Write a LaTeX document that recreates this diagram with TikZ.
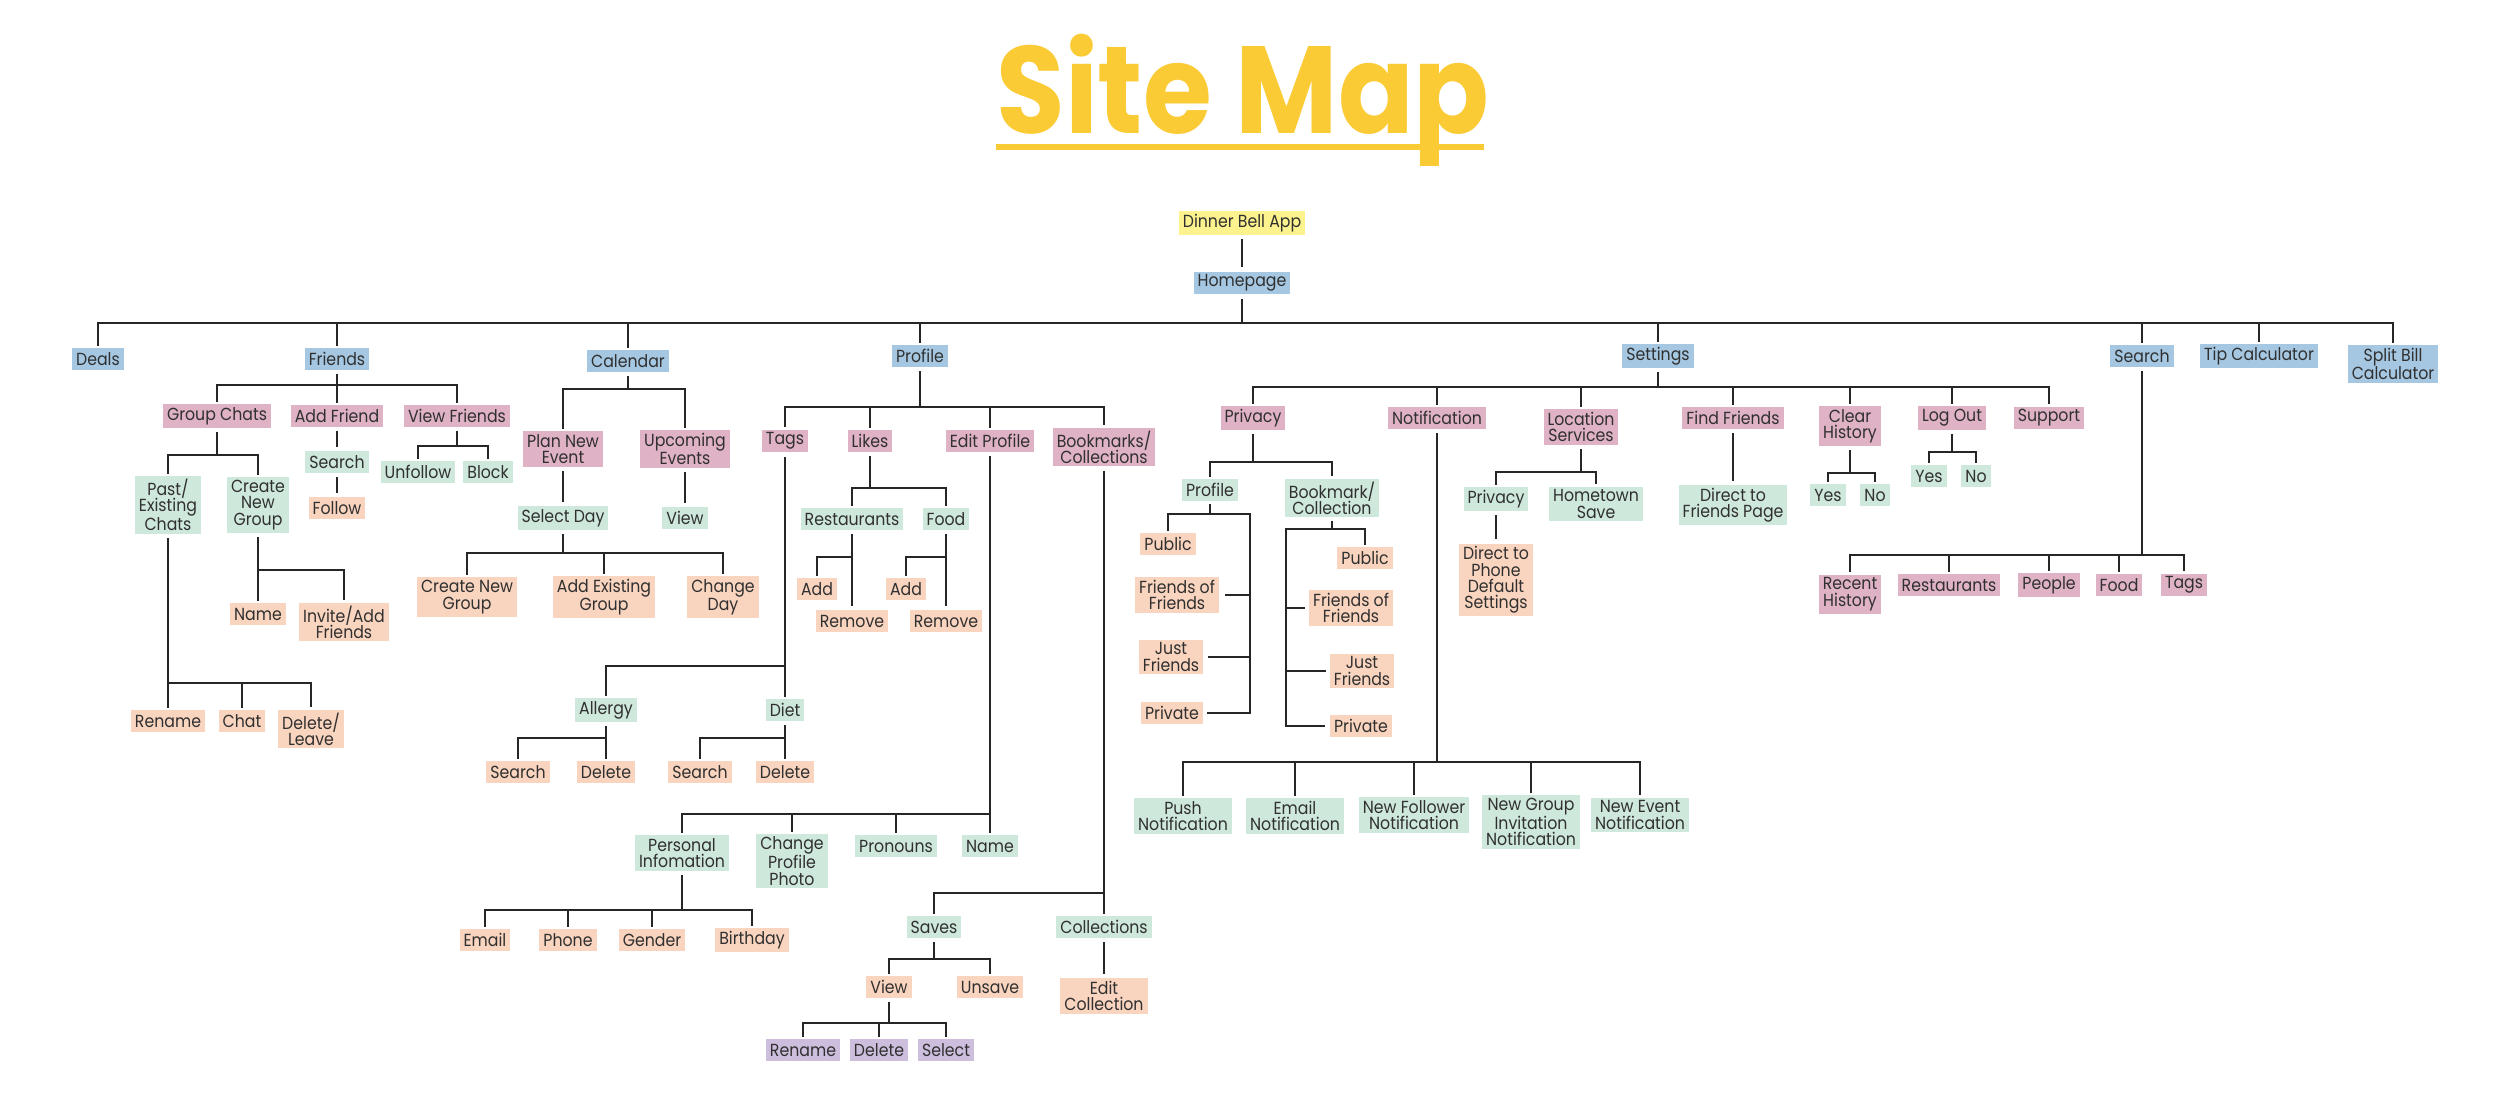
\documentclass[tikz,border=0pt]{standalone}
\usepackage{fontspec}
\newfontfamily\nodefont[FakeStretch=0.9]{Poppins}
\newfontfamily\titlefont[FakeStretch=0.9]{Poppins}
\definecolor{cblue}{HTML}{A5C7E1}
\definecolor{cpink}{HTML}{DFB2C6}
\definecolor{cgreen}{HTML}{CFE8DC}
\definecolor{cpeach}{HTML}{F9D4BF}
\definecolor{cpurple}{HTML}{CEBEDD}
\definecolor{cyellow}{HTML}{FDF38E}
\definecolor{ctitle}{HTML}{FBCB35}
\definecolor{ctext}{HTML}{303030}
\tikzset{
  box/.style={inner xsep=4pt, inner ysep=3pt, minimum height=22pt, align=center,
    font=\nodefont\fontsize{17.5}{16.3}\selectfont, text=ctext},
  bl/.style={box, fill=cblue},
  pk/.style={box, fill=cpink},
  gr/.style={box, fill=cgreen},
  pc/.style={box, fill=cpeach},
  pu/.style={box, fill=cpurple},
  ye/.style={box, fill=cyellow},
  conn/.style={line width=2.2pt, draw=black!85},
  busline/.style={conn, line cap=rect},
}
\newcommand\fan[3]{%
  \draw[conn] ([yshift=-4pt]#1.south) -- (#1.south |- #2);
  \foreach \c in {#3}{\draw[conn] (\c.north |- #2) -- ([yshift=2pt]\c.north);}
}
\newcommand\bus[3]{\draw[busline] (#2.north |- #1) -- (#3.north |- #1);}
\newcommand\vlink[2]{\draw[conn] ([yshift=-4pt]#1.south) -- ([yshift=4pt]#2.north);}
\begin{document}
\begin{tikzpicture}[x=1pt,y=-1pt]
\useasboundingbox (0,0) rectangle (2500,1096);
% title
\node[anchor=base, inner sep=0, text=ctitle,
  font=\titlefont\bfseries\fontsize{124}{124}\selectfont] (title) at (1243,133) {Site Map};
\fill[ctitle] (996,144) rectangle (1484,150);

% level 0/1
\node[ye] (dinner) at (1242,223) {Dinner Bell App};
\node[bl] (home) at (1242,283) {Homepage};
\node[bl] (deals) at (98,359) {Deals};
\node[bl] (friends) at (337,359) {Friends};
\node[bl] (calendar) at (628,361) {Calendar};
\node[bl] (profile) at (920,356) {Profile};
\node[bl] (settings) at (1658,356) {Settings};
\node[bl] (search) at (2142,356) {Search};
\node[bl] (tip) at (2259,356) {Tip Calculator};
\node[bl] (split) at (2393,364) {Split Bill\\Calculator};

% friends subtree
\node[pk] (gchats) at (217,416) {Group Chats};
\node[pk] (addf) at (337,416) {Add Friend};
\node[pk] (viewf) at (457,416) {View Friends};
\node[gr] (past) at (168,505) {Past/\\Existing\\Chats};
\node[gr] (cng) at (258,505) {Create\\New\\Group};
\node[pc] (rename) at (168,721) {Rename};
\node[pc] (chat) at (242,721) {Chat};
\node[pc] (delleave) at (311,729) {Delete/\\Leave};
\node[pc] (gname) at (258,614) {Name};
\node[pc] (invite) at (344,622) {Invite/Add\\Friends};
\node[gr] (fsearch) at (337,462) {Search};
\node[pc] (follow) at (337,508) {Follow};
\node[gr] (unfollow) at (418,472) {Unfollow};
\node[gr] (block) at (488,472) {Block};

% calendar subtree
\node[pk] (plan) at (563,449) {Plan New\\Event};
\node[pk] (upcoming) at (685,449) {Upcoming\\Events};
\node[gr] (selday) at (563,518) {Select Day};
\node[gr] (cview) at (685,518) {View};
\node[pc] (cngroup) at (467,597) {Create New\\Group};
\node[pc] (addex) at (604,597) {Add Existing\\Group};
\node[pc] (chday) at (723,597) {Change\\Day};

% profile subtree
\node[pk] (tags) at (785,441) {Tags};
\node[pk] (likes) at (870,441) {Likes};
\node[pk] (editp) at (990,441) {Edit Profile};
\node[pk] (bookm) at (1104,447) {Bookmarks/\\Collections};
\node[gr] (rest) at (852,519) {Restaurants};
\node[gr] (food) at (946,519) {Food};
\node[pc] (add1) at (817,589) {Add};
\node[pc] (rem1) at (852,621) {Remove};
\node[pc] (add2) at (906,589) {Add};
\node[pc] (rem2) at (946,621) {Remove};
\node[gr] (allergy) at (606,710) {Allergy};
\node[gr] (diet) at (785,710) {Diet};
\node[pc] (asearch) at (518,772) {Search};
\node[pc] (adelete) at (606,772) {Delete};
\node[pc] (dsearch) at (700,772) {Search};
\node[pc] (ddelete) at (785,772) {Delete};
\node[gr] (pinfo) at (682,853) {Personal\\Infomation};
\node[gr] (cpp) at (792,861) {Change\\Profile\\Photo};
\node[gr] (pron) at (896,846) {Pronouns};
\node[gr] (pname) at (990,846) {Name};
\node[pc] (email) at (485,940) {Email};
\node[pc] (phone) at (568,940) {Phone};
\node[pc] (gender) at (652,940) {Gender};
\node[pc] (bday) at (752,940) {Birthday};
\node[gr] (saves) at (934,927) {Saves};
\node[gr] (colls) at (1104,927) {Collections};
\node[pc] (editc) at (1104,996) {Edit\\Collection};
\node[pc] (sview) at (889,987) {View};
\node[pc] (unsave) at (990,987) {Unsave};
\node[pu] (srename) at (803,1050) {Rename};
\node[pu] (sdelete) at (879,1050) {Delete};
\node[pu] (sselect) at (946,1050) {Select};

% settings subtree
\node[pk] (priv) at (1253,418) {Privacy};
\node[pk] (notif) at (1437,418) {Notification};
\node[pk] (locs) at (1581,427) {Location\\Services};
\node[pk] (findf) at (1733,418) {Find Friends};
\node[pk] (clearh) at (1850,426) {Clear\\History};
\node[pk] (logout) at (1952,418) {Log Out};
\node[pk] (support) at (2049,418) {Support};
\node[gr] (pprof) at (1210,490) {Profile};
\node[gr] (pbook) at (1332,498) {Bookmark/\\Collection};
\node[pc] (pub1) at (1168,544) {Public};
\node[pc] (fof1) at (1177,595) {Friends of\\Friends};
\node[pc] (jf1) at (1171,657) {Just\\Friends};
\node[pc] (prv1) at (1172,713) {Private};
\node[pc] (pub2) at (1365,558) {Public};
\node[pc] (fof2) at (1351,608) {Friends of\\Friends};
\node[pc] (jf2) at (1362,671) {Just\\Friends};
\node[pc] (prv2) at (1361,726) {Private};
\node[gr] (push) at (1183,816) {Push\\Notification};
\node[gr] (emailn) at (1295,816) {Email\\Notification};
\node[gr] (nfollow) at (1414,815) {New Follower\\Notification};
\node[gr] (ngroup) at (1531,822) {New Group\\Invitation\\Notification};
\node[gr] (nevent) at (1640,815) {New Event\\Notification};
\node[gr] (lpriv) at (1496,499) {Privacy};
\node[gr] (hsave) at (1596,504) {Hometown\\Save};
\node[pc] (dphone) at (1496,580) {Direct to\\Phone\\Default\\Settings};
\node[gr] (dfriends) at (1733,505) {Direct to\\Friends Page};
\node[gr] (cyes) at (1828,495) {Yes};
\node[gr] (cno) at (1875,495) {No};
\node[gr] (lyes) at (1929,476) {Yes};
\node[gr] (lno) at (1976,476) {No};
\node[pk] (recent) at (1850,594) {Recent\\History};
\node[pk] (srest) at (1949,585) {Restaurants};
\node[pk] (people) at (2049,585) {People};
\node[pk] (sfood) at (2119,585) {Food};
\node[pk] (stags) at (2184,585) {Tags};

% bus levels
\coordinate (bTop) at (0,323);
\coordinate (bFr) at (0,385);
\coordinate (bGC) at (0,455);
\coordinate (bPast) at (0,683);
\coordinate (bCNG) at (0,570);
\coordinate (bVF) at (0,446);
\coordinate (bCal) at (0,389);
\coordinate (bSD) at (0,553);
\coordinate (bPro) at (0,407);
\coordinate (bLk) at (0,488);
\coordinate (bR) at (0,557);
\coordinate (bTg) at (0,666);
\coordinate (bAD) at (0,738);
\coordinate (bEP) at (0,814);
\coordinate (bPI) at (0,910);
\coordinate (bBM) at (0,893);
\coordinate (bSv) at (0,959);
\coordinate (bVw) at (0,1023);
\coordinate (bSet) at (0,387);
\coordinate (bPr) at (0,462);
\coordinate (bPP) at (0,514);
\coordinate (bPB) at (0,529);
\coordinate (bN) at (0,762);
\coordinate (bLS) at (0,472);
\coordinate (bCH) at (0,473);
\coordinate (bLO) at (0,452);
\coordinate (bS) at (0,555);
\coordinate (vPP) at (1250,0);
\coordinate (vPB) at (1286,0);

% connectors
\vlink{dinner}{home}
\bus{bTop}{deals}{split}
\fan{home}{bTop}{deals,friends,calendar,profile,settings,search,tip,split}

\bus{bFr}{gchats}{viewf}
\fan{friends}{bFr}{gchats,addf,viewf}
\bus{bGC}{past}{cng}
\fan{gchats}{bGC}{past,cng}
\bus{bPast}{rename}{delleave}
\fan{past}{bPast}{rename,chat,delleave}
\bus{bCNG}{gname}{invite}
\fan{cng}{bCNG}{gname,invite}
\vlink{addf}{fsearch}
\vlink{fsearch}{follow}
\bus{bVF}{unfollow}{block}
\fan{viewf}{bVF}{unfollow,block}

\bus{bCal}{plan}{upcoming}
\fan{calendar}{bCal}{plan,upcoming}
\vlink{plan}{selday}
\vlink{upcoming}{cview}
\bus{bSD}{cngroup}{chday}
\fan{selday}{bSD}{cngroup,addex,chday}

\bus{bPro}{tags}{bookm}
\fan{profile}{bPro}{tags,likes,editp,bookm}
\bus{bLk}{rest}{food}
\fan{likes}{bLk}{rest,food}
\vlink{rest}{rem1}
\vlink{food}{rem2}
\draw[conn] (rest.south |- bR) -| ([yshift=2pt]add1.north);
\draw[conn] (food.south |- bR) -| ([yshift=2pt]add2.north);
\bus{bTg}{allergy}{diet}
\fan{tags}{bTg}{allergy,diet}
\bus{bAD}{asearch}{allergy}
\fan{allergy}{bAD}{asearch,adelete}
\bus{bAD}{dsearch}{diet}
\fan{diet}{bAD}{dsearch,ddelete}
\bus{bEP}{pinfo}{pname}
\fan{editp}{bEP}{pinfo,cpp,pron,pname}
\bus{bPI}{email}{bday}
\fan{pinfo}{bPI}{email,phone,gender,bday}
\bus{bBM}{saves}{colls}
\fan{bookm}{bBM}{saves,colls}
\vlink{colls}{editc}
\bus{bSv}{sview}{unsave}
\fan{saves}{bSv}{sview,unsave}
\bus{bVw}{srename}{sselect}
\fan{sview}{bVw}{srename,sdelete,sselect}

\bus{bSet}{priv}{support}
\fan{settings}{bSet}{priv,notif,locs,findf,clearh,logout,support}
\bus{bPr}{pprof}{pbook}
\fan{priv}{bPr}{pprof,pbook}
% privacy > profile
\draw[conn] ([yshift=-3pt]pprof.south) -- (pprof.south |- bPP);
\draw[conn] ([yshift=2pt]pub1.north) -- (pub1.north |- bPP) -| (vPP |- prv1.east) -- ([xshift=4pt]prv1.east);
\draw[conn] (vPP |- fof1.east) -- ([xshift=6pt]fof1.east);
\draw[conn] (vPP |- jf1.east) -- ([xshift=5pt]jf1.east);
% privacy > bookmark/collection
\draw[conn] ([yshift=-3pt]pbook.south) -- (pbook.south |- bPB);
\draw[conn] ([yshift=2pt]pub2.north) -- (pub2.north |- bPB) -| (vPB |- prv2.west) -- ([xshift=-5pt]prv2.west);
\draw[conn] (vPB |- fof2.west) -- ([xshift=-4pt]fof2.west);
\draw[conn] (vPB |- jf2.west) -- ([xshift=-4pt]jf2.west);
% notification
\bus{bN}{push}{nevent}
\fan{notif}{bN}{push,emailn,nfollow,ngroup,nevent}
% location
\bus{bLS}{lpriv}{hsave}
\fan{locs}{bLS}{lpriv,hsave}
\vlink{lpriv}{dphone}
\vlink{findf}{dfriends}
\bus{bCH}{cyes}{cno}
\fan{clearh}{bCH}{cyes,cno}
\bus{bLO}{lyes}{lno}
\fan{logout}{bLO}{lyes,lno}
% search
\bus{bS}{recent}{stags}
\fan{search}{bS}{recent,srest,people,sfood,stags}
\end{tikzpicture}
\end{document}
